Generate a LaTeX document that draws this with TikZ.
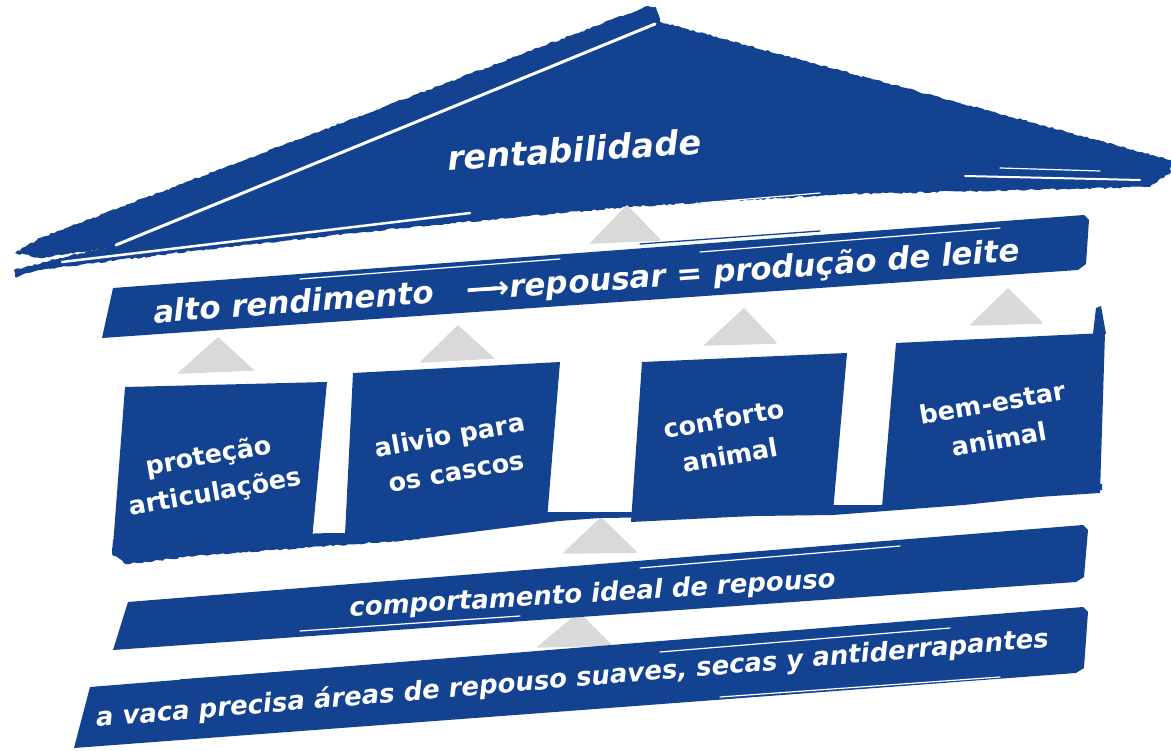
\documentclass[tikz,border=0pt]{standalone}
\usepackage{fontspec}
\setmainfont{DejaVu Sans}
\usetikzlibrary{decorations.pathmorphing}
\definecolor{brush}{RGB}{19,66,145}
\definecolor{tri}{RGB}{217,217,217}
\begin{document}
\begin{tikzpicture}[x=1pt,y=-1pt,
  paint/.style={fill=brush, draw=none},
  rough/.style={fill=brush, draw=none, decorate,
    decoration={random steps, segment length=3pt, amplitude=0.9pt}},
  gapline/.style={draw=white, line width=3pt, line cap=round},
  streak/.style={draw=white, line width=1.2pt, line cap=round},
  hair/.style={draw=brush, line width=1.3pt, line cap=round},
  uptri/.style={fill=tri, draw=tri, line width=1.5pt, line join=round},
  rooftext/.style={text=white, inner sep=0pt, anchor=base,
    font=\fontsize{33.6}{40}\selectfont\bfseries\itshape},
  beamtext/.style={text=white, inner sep=0pt, anchor=base,
    font=\fontsize{31}{37}\selectfont\bfseries\itshape},
  basetext/.style={text=white, inner sep=0pt, anchor=base,
    font=\fontsize{26}{31}\selectfont\bfseries\itshape},
  boxtext/.style={text=white, inner sep=0pt, align=center, rotate=10,
    font=\fontsize{25.5}{37}\selectfont\bfseries}
]
\path[use as bounding box] (0,0) rectangle (1171,751);

% ---------- roof ----------
\fill[rough] (15,253) -- (40,238) -- (648,6) -- (656,7) -- (661,24) -- (118,247) -- (40,258) -- cycle;
\fill[rough] (113,246) -- (661,22) -- (1171,160) -- (1171,172) -- (1150,187) -- (850,194)
  -- (627,207) -- (400,228) -- (200,250) -- (40,270) -- (15,277) -- (14,270) -- (60,258) -- cycle;
\draw[gapline] (116,245) -- (655,24);
\draw[gapline, line width=2.5pt] (62,262) -- (470,213);
\draw[streak, line width=2pt] (965,176) -- (1140,180);
\draw[streak] (1000,168) -- (1100,171);
\draw[streak] (700,203) -- (820,193);

% ---------- grey arrow triangles ----------
\filldraw[uptri] (591,243) -- (627,206) -- (660,240) -- cycle;
\filldraw[uptri] (179,373) -- (218,338) -- (253,370) -- cycle;
\filldraw[uptri] (421,362) -- (458,326) -- (493,358) -- cycle;
\filldraw[uptri] (705,345) -- (744,309) -- (776,343) -- cycle;
\filldraw[uptri] (971,325) -- (1008,289) -- (1042,323) -- cycle;
\filldraw[uptri] (564,553) -- (601,518) -- (636,552) -- cycle;
\filldraw[uptri] (538,647) -- (579,613) -- (611,645) -- cycle;

% ---------- architrave beam ----------
\fill[paint] (113,288) -- (1084,215) -- (1089,220) -- (1086,264) -- (1078,270) -- (102,338) -- cycle;
\draw[streak] (300,279) -- (560,259);
\draw[streak] (700,252) -- (1000,228);
\draw[streak] (500,313) -- (800,291);
\draw[hair] (640,244) -- (820,231);
\draw[hair] (880,232) -- (1040,221);

% ---------- columns ----------
\fill[paint] (113,540) -- (330,533) -- (345,533) -- (547,512) -- (632,512) -- (833,505)
  -- (882,505) -- (1102,484) -- (1102,490) -- (964,505) -- (833,515) -- (600,518)
  -- (559,521) -- (425,538) -- (195,555) -- (126,563) -- (112,553) -- cycle;
\fill[paint] (125,387) -- (327,382) -- (312,540) -- (113,546) -- cycle;
\fill[paint] (353,373) -- (560,362) -- (547,520) -- (345,535) -- cycle;
\fill[paint] (642,362) -- (847,353) -- (833,512) -- (631,522) -- cycle;
\fill[paint] (896,343) -- (1105,333) -- (1100,493) -- (882,507) -- cycle;
\fill[paint] (1093,334) -- (1096,308) -- (1101,306) -- (1106,334) -- cycle;
\fill[rough] (112,548) -- (420,530) -- (420,539) -- (195,556) -- (126,564) -- (112,554) -- cycle;

% ---------- comportamento beam ----------
\fill[paint] (128,602) -- (1083,525) -- (1088,530) -- (1084,577) -- (1076,582) -- (113,650) -- cycle;
\draw[streak] (640,568) -- (900,546);
\draw[streak] (300,631) -- (520,616);
\draw[hair] (700,560) -- (880,546);

% ---------- ground beam ----------
\fill[paint] (90,687) -- (1083,607) -- (1088,612) -- (1084,668) -- (1076,673) -- (74,748) -- cycle;
\draw[streak] (660,652) -- (950,628);
\draw[streak] (720,697) -- (1000,677);
\draw[hair] (180,680) -- (420,662);

% ---------- texts ----------
\node[rooftext, rotate=3.8] (roof) at (575,162) {rentabilidade};
\node[beamtext, rotate=4.1] (beam) at (587,292)
  {alto rendimento\hspace{34pt}{\upshape\rule[0.27em]{0.95em}{0.12em}\kern-0.42em→}repousar = produção de leite};
\node[boxtext] (col1) at (212,475) {proteção\\articulações};
\node[boxtext] (col2) at (453,453) {alivio para\\os cascos};
\node[boxtext] (col3) at (727,437) {conforto\\animal};
\node[boxtext] (col4) at (996,421) {bem-estar\\animal};
\node[basetext, rotate=3.4] (rest) at (593,602) {comportamento ideal de repouso};
\node[basetext, rotate=4.8] (need) at (573,687) {a vaca precisa áreas de repouso suaves, secas y antiderrapantes};
\end{tikzpicture}
\end{document}
